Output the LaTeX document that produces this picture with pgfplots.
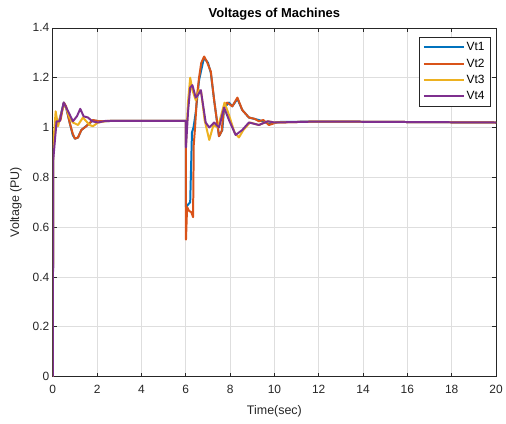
\documentclass[border=0pt]{standalone}
\usepackage{pgfplots}
\pgfplotsset{compat=1.18}
\usepackage{fontspec}
\setmainfont{Liberation Sans}

\definecolor{mblue}{rgb}{0,0.447,0.741}
\definecolor{morange}{rgb}{0.85,0.325,0.098}
\definecolor{myellow}{rgb}{0.929,0.694,0.125}
\definecolor{mpurple}{rgb}{0.494,0.184,0.556}
\definecolor{axgray}{gray}{0.15}
\definecolor{gridgray}{gray}{0.87}

\begin{document}
\begin{tikzpicture}
\begin{axis}[
  scale only axis,
  width=445pt, height=350pt,
  xmin=0, xmax=20, ymin=0, ymax=1.4,
  xtick={0,2,...,20},
  ytick={0,0.2,...,1.4},
  yticklabel style={/pgf/number format/fixed, /pgf/number format/precision=1},
  /pgf/number format/assume math mode=true,
  tick label style={font=\fontsize{12}{14}\selectfont, text=axgray},
  xticklabel style={yshift=-5pt},
  grid=major,
  major grid style={gridgray, line width=0.6pt},
  axis line style={axgray, line width=0.6pt},
  tick style={axgray, line width=0.6pt},
  tick align=inside,
  major tick length=4pt,
  xtick pos=both, ytick pos=both,
  title={\bfseries Voltages of Machines},
  title style={font=\fontsize{13}{15}\selectfont, yshift=-2pt},
  xlabel={Time(sec)},
  ylabel={Voltage (PU)},
  label style={font=\fontsize{12.5}{14}\selectfont, text=axgray},
  xlabel style={yshift=-5pt},
  ylabel style={yshift=4pt},
  legend style={at={(0.988,0.974)}, anchor=north east, draw=axgray,
    font=\fontsize{12}{14}\selectfont, row sep=2.5pt, inner xsep=4pt, inner ysep=3.5pt},
  legend cell align=left,
  legend image code/.code={\draw[#1, line width=2pt] (0pt,0pt) -- (40pt,0pt);},
  every axis plot/.append style={line width=2pt, line join=round},
]
% Machine 1 terminal voltage
\addplot[mblue] coordinates {
(0,0) (0.02,0.9) (0.1,0.98) (0.2,1.02) (0.3,1.03) (0.5,1.10) (0.6,1.08)
(0.76,1.02) (0.9,0.97) (1.0,0.955) (1.14,0.96) (1.29,0.99) (1.5,1.005)
(1.8,1.028) (2.1,1.025) (3,1.027) (6,1.027) (6.01,0.68) (6.1,0.69)
(6.2,0.70) (6.28,0.98) (6.35,1.0) (6.45,1.06) (6.6,1.19) (6.82,1.28)
(7.0,1.26) (7.13,1.22) (7.28,1.11) (7.5,0.965) (7.65,0.99) (7.73,1.08)
(7.95,1.1) (8.1,1.085) (8.33,1.115) (8.55,1.07) (8.85,1.04) (9.3,1.03)
(9.75,1.015) (10.2,1.022) (12,1.024) (20,1.02)
};
\addlegendentry{Vt1}
% Machine 2 terminal voltage
\addplot[morange] coordinates {
(0,0) (0.02,0.9) (0.1,0.99) (0.2,1.02) (0.35,1.03) (0.5,1.10) (0.6,1.085)
(0.76,1.02) (0.9,0.975) (1.0,0.955) (1.14,0.96) (1.29,0.99) (1.51,1.005)
(1.81,1.03) (2.1,1.025) (3,1.027) (6,1.027) (6.01,0.55) (6.06,0.68)
(6.15,0.665) (6.25,0.66) (6.33,0.64) (6.36,0.93) (6.42,1.0) (6.5,1.12)
(6.6,1.2) (6.7,1.26) (6.83,1.285) (6.95,1.265) (7.13,1.225) (7.28,1.11)
(7.5,0.965) (7.62,0.985) (7.73,1.085) (7.85,1.1) (7.95,1.095) (8.1,1.085)
(8.33,1.12) (8.55,1.07) (8.85,1.04) (9.1,1.035) (9.3,1.025) (9.5,1.03)
(9.75,1.01) (10.1,1.02) (12,1.024) (20,1.02)
};
\addlegendentry{Vt2}
% Machine 3 terminal voltage
\addplot[myellow] coordinates {
(0,0) (0.02,0.93) (0.13,1.065) (0.24,1.005) (0.34,1.045) (0.5,1.09)
(0.6,1.08) (0.75,1.04) (0.91,1.02) (1.14,1.01) (1.36,1.04) (1.66,1.01)
(1.81,1.005) (2.04,1.02) (2.5,1.027) (6,1.027) (6.01,0.93) (6.1,1.1)
(6.2,1.2) (6.3,1.15) (6.45,1.11) (6.6,1.15) (6.7,1.14) (6.85,1.03)
(7.06,0.95) (7.25,1.01) (7.45,1.0) (7.6,1.05) (7.75,1.1) (7.95,1.05)
(8.2,0.98) (8.4,0.96) (8.6,0.99) (8.9,1.02) (9.3,1.01) (9.7,1.025)
(10,1.02) (12,1.024) (20,1.02)
};
\addlegendentry{Vt3}
% Machine 4 terminal voltage
\addplot[mpurple] coordinates {
(0,0) (0.02,0.87) (0.17,1.025) (0.31,1.025) (0.49,1.10) (0.69,1.065)
(0.91,1.025) (1.09,1.045) (1.24,1.075) (1.39,1.045) (1.59,1.04)
(1.78,1.025) (2.04,1.02) (2.4,1.027) (6,1.027) (6.01,0.92) (6.1,1.06)
(6.2,1.16) (6.3,1.17) (6.45,1.12) (6.55,1.13) (6.68,1.15) (6.9,1.02)
(7.06,1.0) (7.28,1.02) (7.5,1.0) (7.73,1.08) (7.95,1.03) (8.25,0.97)
(8.55,0.99) (8.85,1.02) (9.3,1.01) (9.7,1.025) (10,1.02) (12,1.024)
(20,1.02)
};
\addlegendentry{Vt4}
\end{axis}
\useasboundingbox ([shift={(-53pt,-47pt)}]current axis.south west)
  rectangle ([shift={(8pt,28pt)}]current axis.north east);
\end{tikzpicture}
\end{document}
